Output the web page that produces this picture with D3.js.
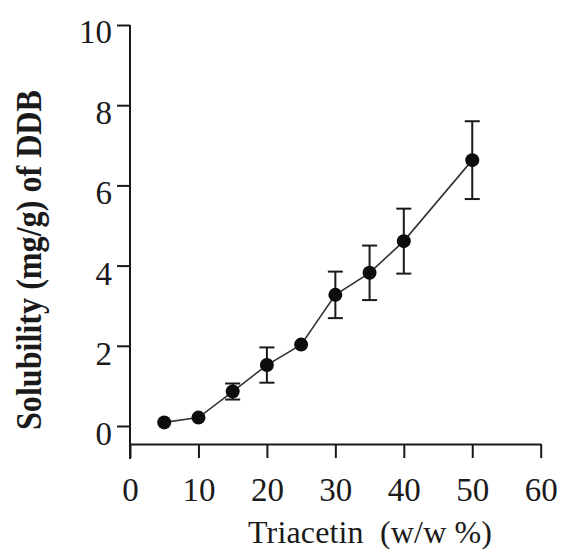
<!DOCTYPE html>
<html>
<head>
<meta charset="utf-8">
<script src="https://cdn.jsdelivr.net/npm/d3@7"></script>
<style>
  html, body { margin: 0; padding: 0; background: #fff; }
  svg { display: block; }
  text { font-family: "Liberation Serif", "Tinos", "Times New Roman", Times, "DejaVu Serif", serif; }
</style>
</head>
<body>
<svg id="chart" width="566" height="549"></svg>
<script>
// ---- data ----
const triacetin = [5, 10, 15, 20, 25, 30, 35, 40, 50];
const solubility = [0.09, 0.21, 0.86, 1.52, 2.03, 3.27, 3.82, 4.61, 6.63];
const errors = [0, 0, 0.2, 0.44, 0, 0.58, 0.68, 0.81, 0.97];
const xTicks = [0, 10, 20, 30, 40, 50, 60];
const yTicks = [0, 2, 4, 6, 8, 10];
const xTitle = "Triacetin  (w/w %)";
const yTitle = "Solubility (mg/g) of DDB";

const svg = d3.select("#chart");
const ink = "#1a1a1a";

const x = d3.scaleLinear().domain([0, 60]).range([130, 540.7]);
const y = d3.scaleLinear().domain([0, 10]).range([426, 25]);
const yAxisBottom = -0.82;  // axis line extends below zero
const xAxisAt = -0.45;      // x axis sits below zero

// X axis
const gx = svg.append("g")
  .attr("transform", `translate(0,${y(xAxisAt)})`)
  .call(d3.axisBottom(x).tickValues(xTicks).tickSize(14).tickSizeOuter(0).tickFormat(d3.format("d")));
gx.attr("font-family", null).attr("font-size", null);
gx.select(".domain").attr("stroke", ink).attr("stroke-width", 2);
gx.selectAll(".tick line").attr("stroke", ink).attr("stroke-width", 2);
gx.selectAll(".tick text")
  .attr("y", 57).attr("dy", 0)
  .attr("fill", ink)
  .style("font-size", "33px");

// Y axis
const gy = svg.append("g")
  .attr("transform", `translate(${x(0)},0)`)
  .call(d3.axisLeft(y).tickValues(yTicks).tickSize(13).tickSizeOuter(0).tickFormat(d3.format("d")));
gy.attr("font-family", null).attr("font-size", null);
gy.select(".domain").remove();
gy.append("line")
  .attr("x1", 0).attr("x2", 0)
  .attr("y1", y(yAxisBottom)).attr("y2", y(10))
  .attr("stroke", ink).attr("stroke-width", 2);
gy.selectAll(".tick line").attr("stroke", ink).attr("stroke-width", 2);
gy.selectAll(".tick text")
  .attr("x", -18).attr("dy", 0).attr("y", 18.5)
  .attr("fill", ink)
  .style("font-size", "33px");
gy.selectAll(".tick").filter(d => d === 10).select("text").attr("y", 17);

// Axis titles
svg.append("text")
  .attr("x", 370).attr("y", 543)
  .attr("text-anchor", "middle")
  .attr("fill", ink)
  .attr("textLength", 244)
  .style("font-size", "32px")
  .style("white-space", "pre")
  .text(xTitle);

svg.append("text")
  .attr("transform", "translate(41,260) rotate(-90)")
  .attr("text-anchor", "middle")
  .attr("fill", ink)
  .attr("textLength", 340)
  .attr("lengthAdjust", "spacingAndGlyphs")
  .style("font-size", "35px").style("font-weight", "bold")
  .text(yTitle);

// Data
const pts = triacetin.map((t, i) => ({ t, v: solubility[i], e: errors[i] }));

svg.append("path")
  .datum(pts)
  .attr("fill", "none")
  .attr("stroke", "#333")
  .attr("stroke-width", 1.6)
  .attr("d", d3.line().x(d => x(d.t)).y(d => y(d.v)));

const eb = svg.append("g").attr("stroke", ink).attr("stroke-width", 2);
pts.filter(d => d.e > 0).forEach(d => {
  eb.append("line").attr("x1", x(d.t)).attr("x2", x(d.t)).attr("y1", y(d.v - d.e)).attr("y2", y(d.v + d.e));
  eb.append("line").attr("x1", x(d.t) - 7.5).attr("x2", x(d.t) + 7.5).attr("y1", y(d.v + d.e)).attr("y2", y(d.v + d.e));
  eb.append("line").attr("x1", x(d.t) - 7.5).attr("x2", x(d.t) + 7.5).attr("y1", y(d.v - d.e)).attr("y2", y(d.v - d.e));
});

svg.append("g").selectAll("circle")
  .data(pts).join("circle")
  .attr("cx", d => x(d.t)).attr("cy", d => y(d.v))
  .attr("r", 7)
  .attr("fill", "#0d0d0d");
</script>
</body>
</html>
